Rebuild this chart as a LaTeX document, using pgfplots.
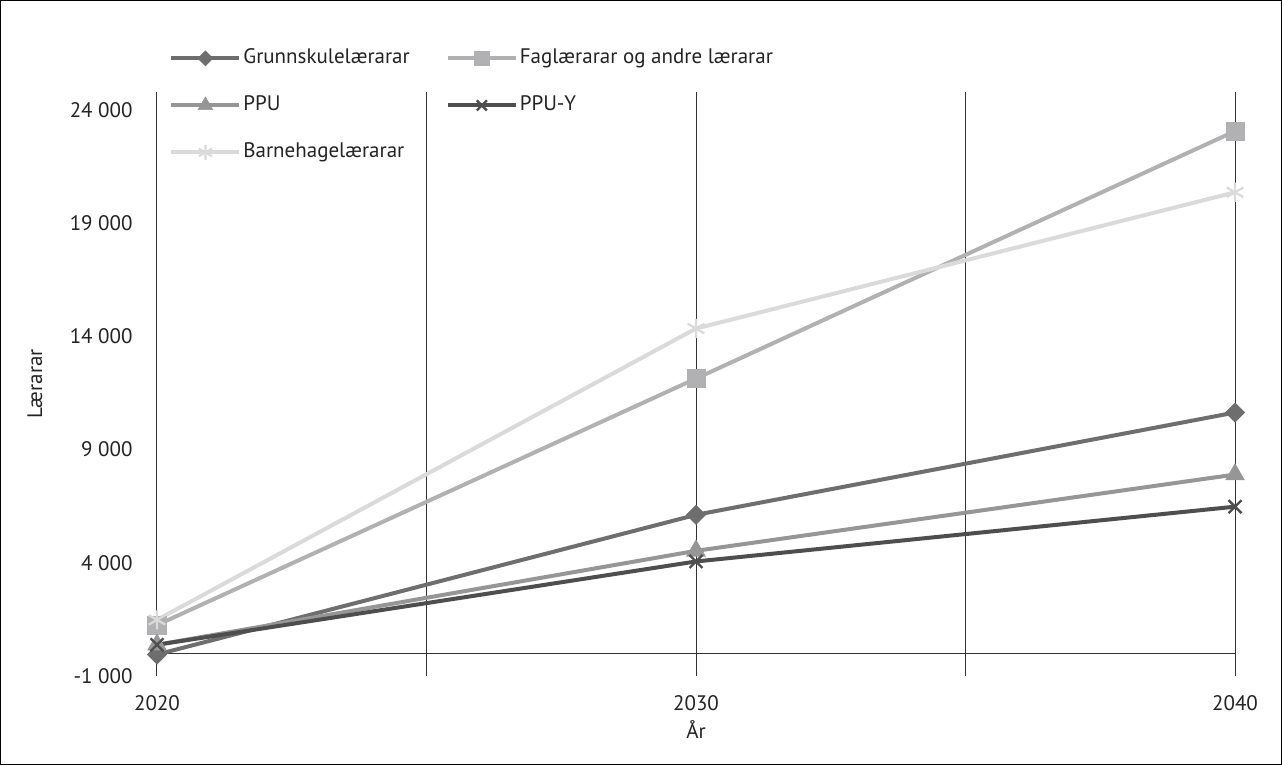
\documentclass[border=0pt]{standalone}
\usepackage{fontspec}
\setmainfont{PT Sans}
\usepackage{pgfplots}
\pgfplotsset{compat=1.18}

\definecolor{grunn}{RGB}{110,110,110}
\definecolor{fag}{RGB}{177,177,179}
\definecolor{ppu}{RGB}{150,150,150}
\definecolor{ppuy}{RGB}{78,78,78}
\definecolor{barne}{RGB}{218,218,218}
\definecolor{txt}{RGB}{35,35,35}

\begin{document}
\fontsize{10.5pt}{12.6pt}\selectfont
\begin{tikzpicture}
\begin{axis}[
  scale only axis,
  width=539pt, height=292pt,
  xmin=2020, xmax=2040,
  ymin=-1000, ymax=24800,
  scaled y ticks=false,
  xtick={2020,2025,2030,2035,2040},
  xticklabels={2020,,2030,,2040},
  ytick={-1000,4000,9000,14000,19000,24000},
  yticklabels={{-1 000},{4 000},{9 000},{14 000},{19 000},{24 000}},
  extra y ticks={0},
  extra y tick labels={},
  extra y tick style={ymajorgrids=true, major tick length=0pt},
  xmajorgrids=true,
  grid style={line width=0.5pt, draw=black!80},
  major tick length=0pt,
  axis line style={draw=none},
  tick label style={font=\fontsize{10.5pt}{12.6pt}\selectfont, text=txt},
  yticklabel style={inner sep=0pt, xshift=-12pt},
  xticklabel style={inner sep=0pt, yshift=-9.5pt},
  xlabel={År},
  ylabel={Lærarar},
  label style={font=\fontsize{10.5pt}{12.6pt}\selectfont, text=txt},
  xlabel style={at={(axis description cs:0.5,-0.0925)}, anchor=center},
  ylabel style={at={(axis description cs:-0.1132,0.5)}, anchor=center},
  clip=false,
  legend columns=2,
  legend cell align=left,
  legend style={
    at={(axis description cs:0,1)}, anchor=north west,
    xshift=6pt, yshift=22.5pt,
    draw=none, fill=none, inner sep=0pt,
    font=\fontsize{10.5pt}{12.6pt}\selectfont, text=txt,
    nodes={inner sep=0pt, text height=8pt, text depth=3pt},
    row sep=12.5pt,
    /tikz/every odd column/.append style={column sep=1pt},
    /tikz/every even column/.append style={column sep=18pt},
  },
  legend image code/.code={
    \draw[mark repeat=2, mark phase=2, #1, every mark/.append style={scale=0.78}]
      plot coordinates {(0pt,0pt) (17pt,0pt) (34pt,0pt)};
  },
  every axis plot/.append style={line width=2pt},
]
\addplot[color=grunn, mark=square*, mark size=3.4pt, mark options={rotate=45, line width=0.3pt}]
  coordinates {(2020,-50) (2030,6120) (2040,10640)};
\addlegendentry{Grunnskulelærarar}
\addplot[color=fag, mark=square*, mark size=4.6pt, mark options={line width=0.3pt}]
  coordinates {(2020,1250) (2030,12140) (2040,23070)};
\addlegendentry{Faglærarar og andre lærarar}
\addplot[color=ppu, mark=triangle*, mark size=5.4pt, mark options={line width=0.3pt}]
  coordinates {(2020,380) (2030,4530) (2040,7900)};
\addlegendentry{PPU}
\addplot[color=ppuy, mark=x, mark size=4.6pt, mark options={line width=1.2pt}]
  coordinates {(2020,380) (2030,4060) (2040,6480)};
\addlegendentry{PPU-Y}
\addplot[color=barne, mark=asterisk, mark size=4.8pt, mark options={line width=1.1pt}]
  coordinates {(2020,1480) (2030,14350) (2040,20370)};
\addlegendentry{Barnehagelærarar}
\coordinate (sw) at (rel axis cs:0,0);
\coordinate (ne) at (rel axis cs:1,1);
\end{axis}
\draw[line width=0.75pt, black]
  ([shift={(-78.125pt,-44.125pt)}]sw) rectangle ([shift={(23.125pt,45.625pt)}]ne);
\end{tikzpicture}
\end{document}
